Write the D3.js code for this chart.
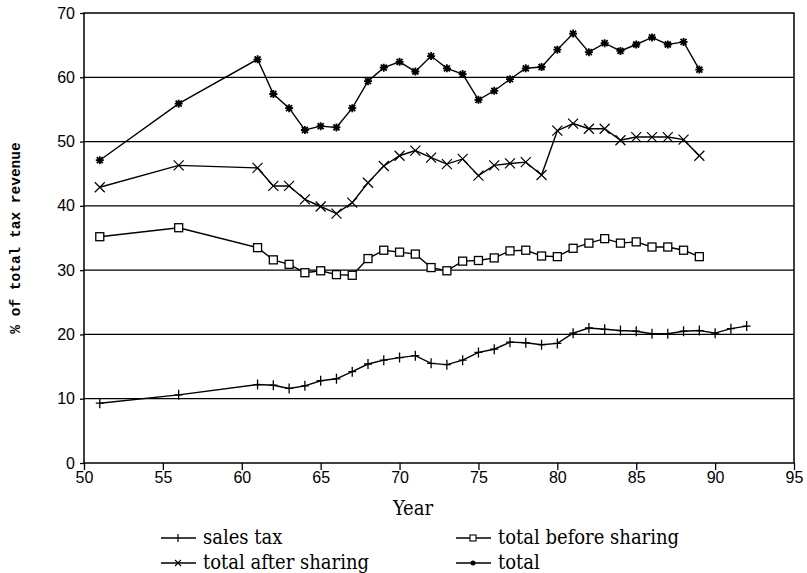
<!DOCTYPE html>
<html>
<head>
<meta charset="utf-8">
<script src="https://cdn.jsdelivr.net/npm/d3@7"></script>
<style>
body{margin:0;background:#fff;}
svg{display:block;}
</style>
</head>
<body>
<svg id="chart" width="807" height="573"></svg>
<script>
// data
var salesYears=[51,56,61,62,63,64,65,66,67,68,69,70,71,72,73,74,75,76,77,78,79,80,81,82,83,84,85,86,87,88,89,90,91,92];
var salesTax=[9.3,10.6,12.2,12.1,11.6,12.0,12.8,13.1,14.2,15.4,16.0,16.4,16.7,15.5,15.3,16.0,17.2,17.7,18.8,18.7,18.4,18.6,20.2,21.0,20.8,20.6,20.5,20.1,20.1,20.5,20.6,20.2,20.9,21.3];
var otherYears=[51,56,61,62,63,64,65,66,67,68,69,70,71,72,73,74,75,76,77,78,79,80,81,82,83,84,85,86,87,88,89];
var beforeSharing=[35.2,36.6,33.5,31.6,30.9,29.6,29.9,29.3,29.2,31.8,33.1,32.8,32.5,30.4,29.9,31.4,31.5,31.9,33.0,33.1,32.2,32.1,33.4,34.2,34.9,34.2,34.4,33.6,33.6,33.1,32.1];
var afterSharing=[42.9,46.3,45.9,43.1,43.1,41.0,39.9,38.8,40.5,43.6,46.2,47.8,48.6,47.5,46.5,47.3,44.7,46.3,46.6,46.8,44.8,51.7,52.8,52.0,52.0,50.2,50.7,50.7,50.7,50.3,47.8];
var total=[47.1,55.9,62.8,57.4,55.2,51.8,52.4,52.2,55.2,59.4,61.5,62.4,60.9,63.3,61.4,60.5,56.5,57.9,59.7,61.4,61.6,64.3,66.8,63.9,65.3,64.1,65.1,66.2,65.1,65.5,61.2];
var xTicks=[50,55,60,65,70,75,80,85,90,95];
var yTicks=[0,10,20,30,40,50,60,70];

var svg=d3.select("#chart");
var L=84,R=794,T=13,B=463;
var x=d3.scaleLinear().domain([50,95]).range([L,R]);
var y=d3.scaleLinear().domain([0,70]).range([B,T]);

var series=[
  {name:"sales tax",years:salesYears,vals:salesTax,mark:"plus"},
  {name:"total before sharing",years:otherYears,vals:beforeSharing,mark:"square"},
  {name:"total after sharing",years:otherYears,vals:afterSharing,mark:"cross"},
  {name:"total",years:otherYears,vals:total,mark:"star"}
];

// gridlines
svg.append("g").selectAll("line").data(yTicks.filter(function(d){return d>0&&d<70;}))
  .enter().append("line")
  .attr("x1",L).attr("x2",R)
  .attr("y1",function(d){return y(d);}).attr("y2",function(d){return y(d);})
  .attr("stroke","#000").attr("stroke-width",1.3);

// frame
svg.append("rect").attr("x",L).attr("y",T).attr("width",R-L).attr("height",B-T)
  .attr("fill","none").attr("stroke","#000").attr("stroke-width",1.5);

// axes
var xAxis=svg.append("g").attr("transform","translate(0,"+B+")")
  .call(d3.axisBottom(x).tickValues(xTicks).tickSize(7).tickPadding(2).tickFormat(d3.format("d")));
var yAxis=svg.append("g").attr("transform","translate("+L+",0)")
  .call(d3.axisLeft(y).tickValues(yTicks).tickSize(4).tickPadding(5).tickFormat(d3.format("d")));
[xAxis,yAxis].forEach(function(a){
  a.select(".domain").remove();
  a.selectAll("line").attr("stroke","#000").attr("stroke-width",1.3);
  a.selectAll("text").attr("fill","#000").style("font-family","'Liberation Sans',Arial,sans-serif").style("font-size","16px");
});

// axis titles
svg.append("text").attr("x",413).attr("y",515).attr("text-anchor","middle")
  .style("font-family","'DejaVu Serif Condensed','DejaVu Serif',serif").style("font-size","20px").text("Year");
svg.append("text").attr("transform","translate(20,"+((T+B)/2)+") rotate(-90)")
  .attr("text-anchor","middle")
  .style("font-family","'Liberation Mono','DejaVu Sans Mono',monospace").style("font-size","14.5px").style("font-weight","bold")
  .text("% of total tax revenue");

// marker drawing
function drawMark(g,type,cx,cy){
  if(type==="plus"){
    g.append("path").attr("d","M"+(cx-4)+","+cy+"H"+(cx+4)+"M"+cx+","+(cy-5)+"V"+(cy+5))
      .attr("stroke","#000").attr("stroke-width",1.3);
  } else if(type==="square"){
    g.append("rect").attr("x",cx-4).attr("y",cy-4).attr("width",8).attr("height",8)
      .attr("fill","#fff").attr("stroke","#000").attr("stroke-width",1.3);
  } else if(type==="cross"){
    g.append("path").attr("d","M"+(cx-5)+","+(cy-5)+"L"+(cx+5)+","+(cy+5)+"M"+(cx-5)+","+(cy+5)+"L"+(cx+5)+","+(cy-5))
      .attr("stroke","#000").attr("stroke-width",1.2);
  } else {
    g.append("path").attr("d","M"+(cx-4)+","+cy+"H"+(cx+4)+"M"+cx+","+(cy-4)+"V"+(cy+4)+
      "M"+(cx-3)+","+(cy-3)+"L"+(cx+3)+","+(cy+3)+"M"+(cx-3)+","+(cy+3)+"L"+(cx+3)+","+(cy-3))
      .attr("stroke","#000").attr("stroke-width",1.8);
    g.append("circle").attr("cx",cx).attr("cy",cy).attr("r",2.2).attr("fill","#000");
  }
}

var line=d3.line().x(function(d){return x(d[0]);}).y(function(d){return y(d[1]);});
series.forEach(function(s){
  var pts=s.years.map(function(yr,i){return [yr,s.vals[i]];});
  svg.append("path").datum(pts).attr("d",line)
    .attr("fill","none").attr("stroke","#000").attr("stroke-width",1.4);
  var g=svg.append("g");
  pts.forEach(function(p){drawMark(g,s.mark,x(p[0]),y(p[1]));});
});

// legend
var legendPos=[[161,538],[456,538],[161,563],[456,563]];
series.forEach(function(s,i){
  var lx=legendPos[i][0],ly=legendPos[i][1];
  var g=svg.append("g");
  g.append("line").attr("x1",lx).attr("x2",lx+35).attr("y1",ly).attr("y2",ly)
    .attr("stroke","#000").attr("stroke-width",1.4);
  var c=lx+17;
  if(s.mark==="square"){
    g.append("rect").attr("x",c-3).attr("y",ly-3).attr("width",6).attr("height",6)
      .attr("fill","#fff").attr("stroke","#000").attr("stroke-width",1.1);
  } else if(s.mark==="plus"){
    g.append("line").attr("x1",c).attr("x2",c).attr("y1",ly-4).attr("y2",ly+4).attr("stroke","#000").attr("stroke-width",1.2);
  } else if(s.mark==="cross"){
    g.append("path").attr("d","M"+(c-3)+","+(ly-3)+"L"+(c+3)+","+(ly+3)+"M"+(c-3)+","+(ly+3)+"L"+(c+3)+","+(ly-3))
      .attr("stroke","#000").attr("stroke-width",1.1);
  } else {
    g.append("circle").attr("cx",c).attr("cy",ly).attr("r",2.5).attr("fill","#000");
  }
  g.append("text").attr("x",lx+42).attr("y",ly+6)
    .style("font-family","'DejaVu Serif Condensed','DejaVu Serif',serif").style("font-size","20px")
    .text(s.name);
});
</script>
</body>
</html>
